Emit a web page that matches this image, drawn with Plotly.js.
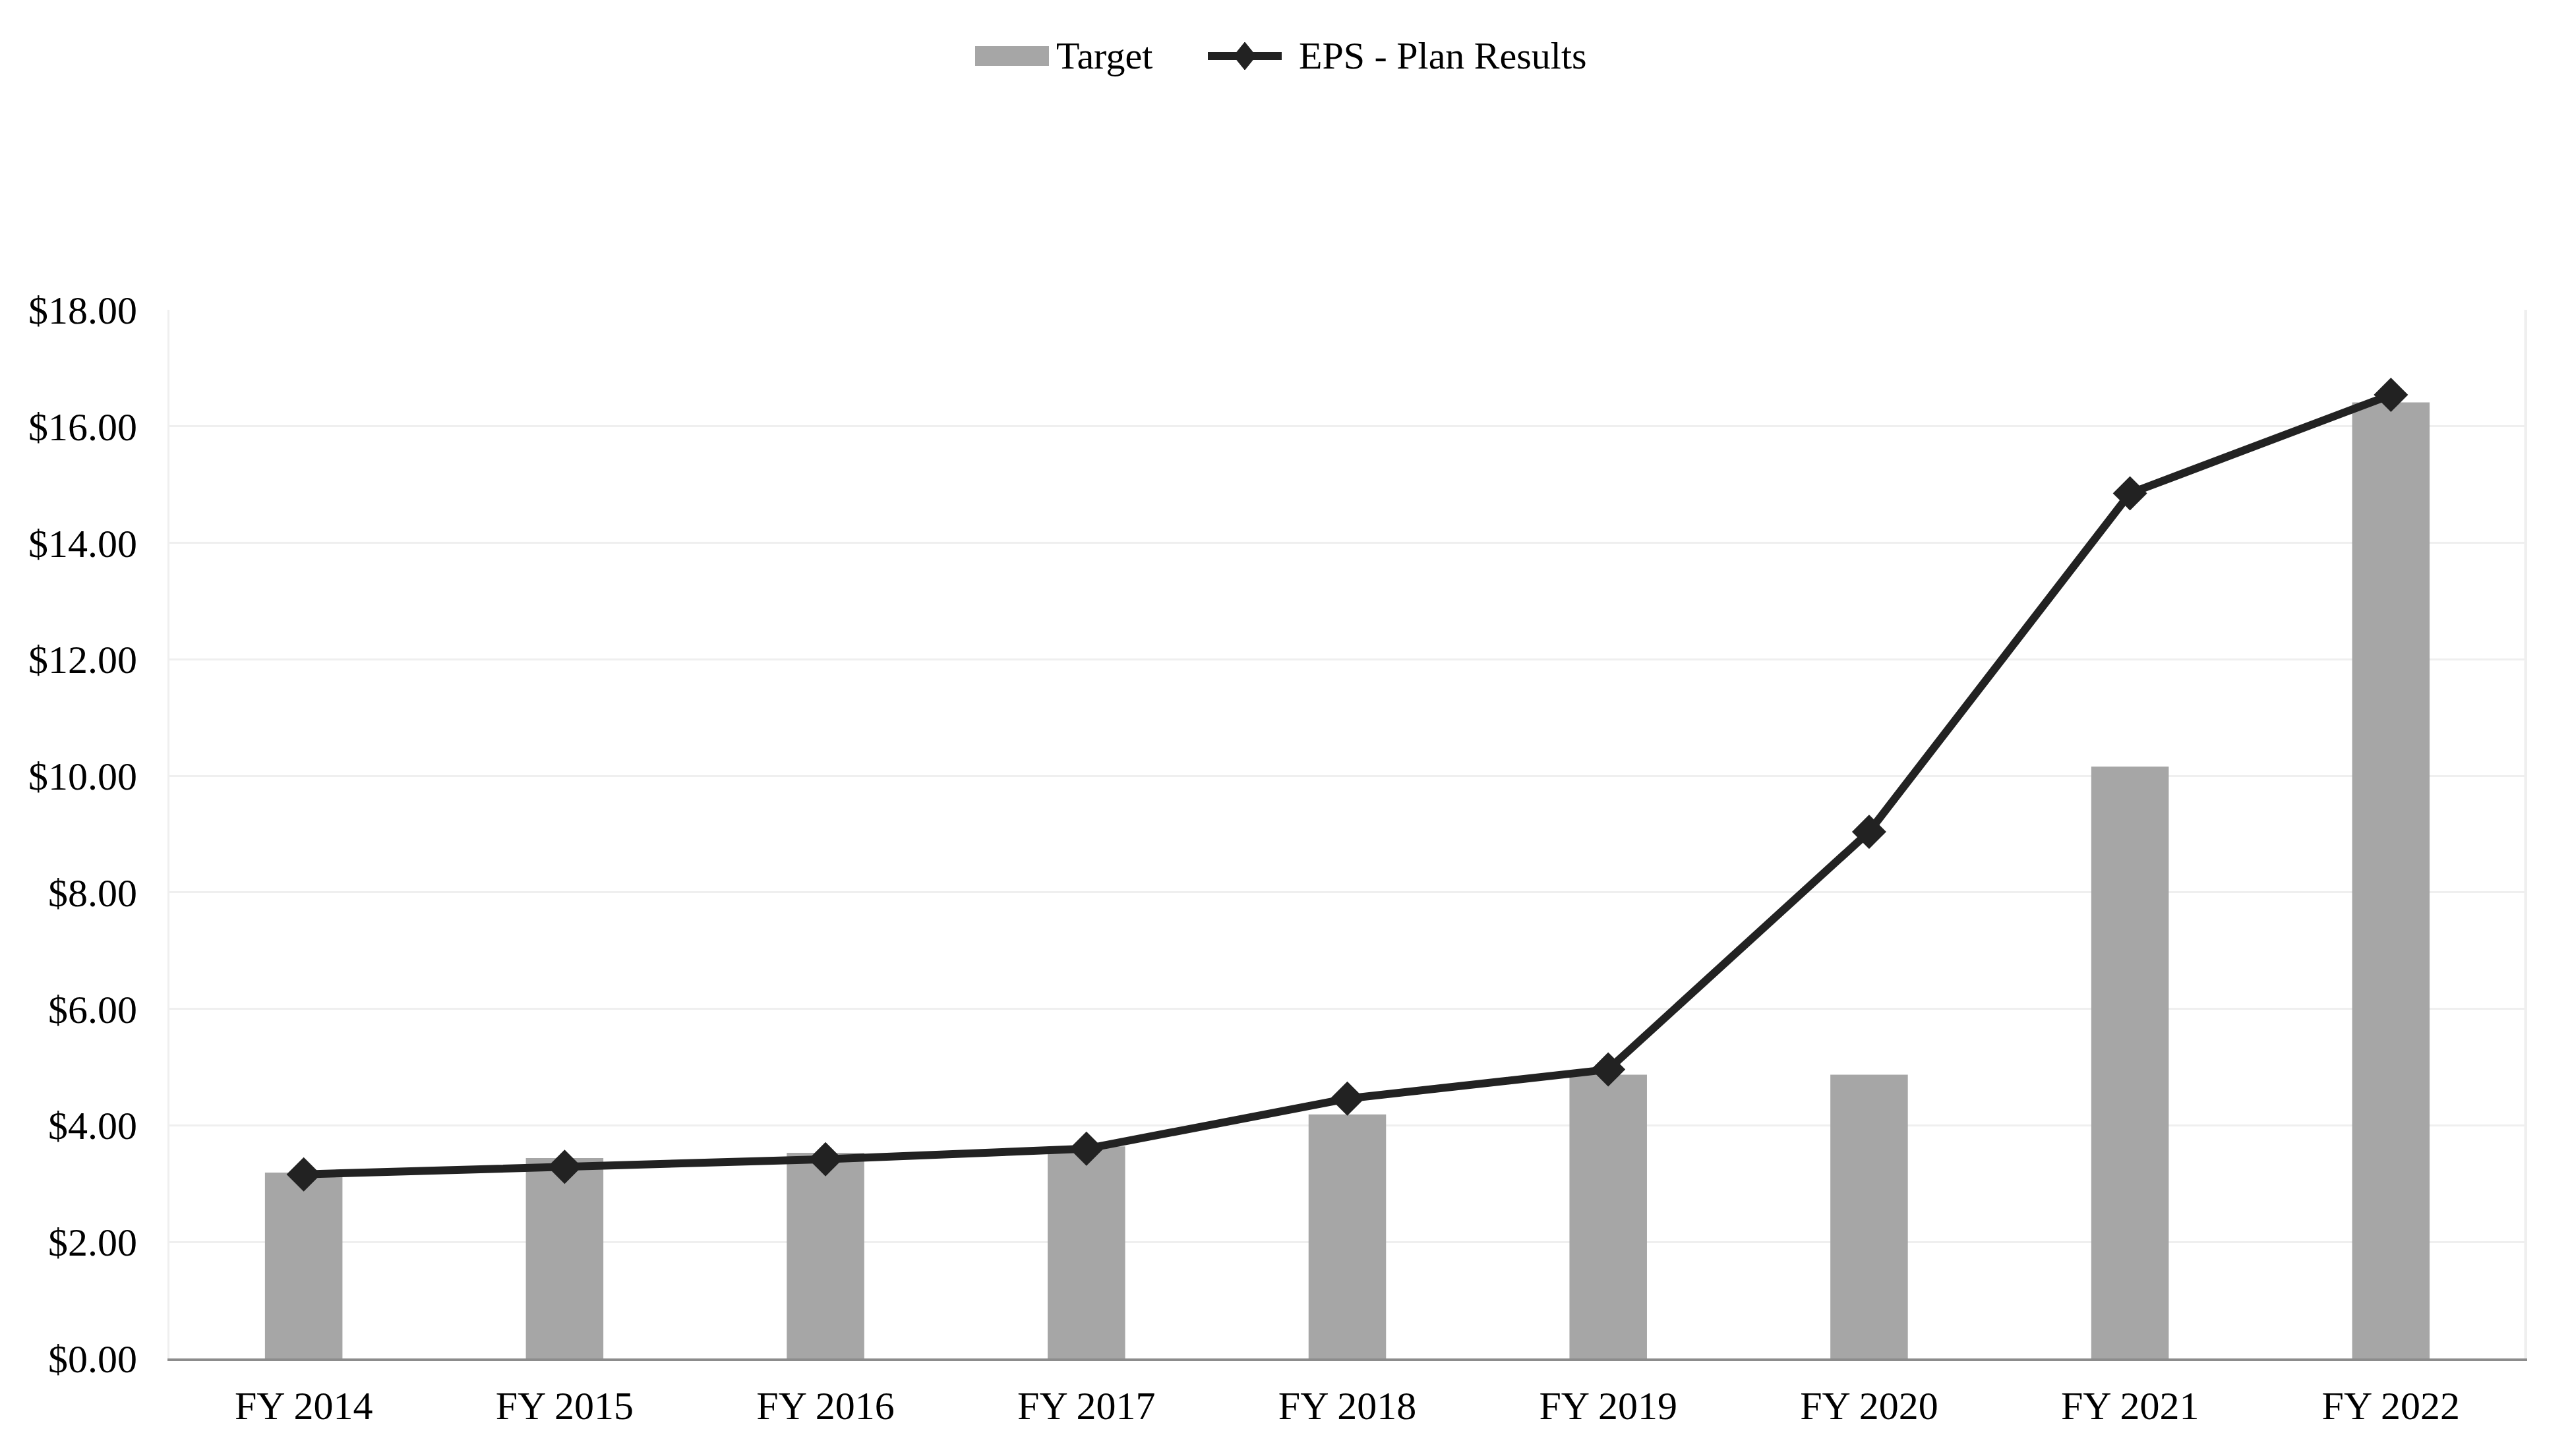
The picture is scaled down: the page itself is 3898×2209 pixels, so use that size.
<!DOCTYPE html>
<html>
<head>
<meta charset="utf-8">
<script src="https://cdn.plot.ly/plotly-3.0.1.min.js"></script>
<style>html,body{margin:0;padding:0;background:#fff;}#chart{width:3898px;height:2209px;}</style>
</head>
<body>
<div id="chart"></div>
<script>
const categories = ["FY 2014","FY 2015","FY 2016","FY 2017","FY 2018","FY 2019","FY 2020","FY 2021","FY 2022"];
const targetValues = [3.19, 3.44, 3.53, 3.64, 4.19, 4.87, 4.87, 10.16, 16.41];
const epsValues = [3.16, 3.29, 3.42, 3.60, 4.46, 4.96, 9.04, 14.85, 16.54];
const yTickValues = [0, 2, 4, 6, 8, 10, 12, 14, 16, 18];
const yTickLabels = ["$0.00","$2.00","$4.00","$6.00","$8.00","$10.00","$12.00","$14.00","$16.00","$18.00"];
const seriesNames = ["Target", "EPS - Plan Results"];

const W = 3898, H = 2209;
const M = {l: 257, r: 68, t: 470, b: 148};
const PW = W - M.l - M.r, PH = H - M.t - M.b;
const px = v => (v - M.l) / PW;          // page x pixel -> paper
const py = v => (H - M.b - v) / PH;      // page y pixel -> paper

const serif = "Liberation Serif, Times New Roman, serif";
const tickFont = {family: serif, size: 60, color: "#000"};
const legFont = {family: serif, size: 58, color: "#000"};
const barColor = "#a6a6a6", lineColor = "#222222";

const traces = [
  {type: "bar", name: seriesNames[0], x: categories, y: targetValues,
   marker: {color: barColor}, hoverinfo: "skip"},
  {type: "scatter", mode: "lines+markers", name: seriesNames[1], x: categories, y: epsValues,
   line: {color: lineColor, width: 12},
   marker: {symbol: "diamond", size: 40, color: lineColor}, hoverinfo: "skip"}
];

// custom legend (drawn in paper coordinates)
const legY = 85;
const dx = 1888, dhw = 17, dhh = 21;
const shapes = [
  {type: "line", xref: "paper", yref: "paper", x0: 1, x1: 1, y0: 0, y1: 1, line: {color: "#efefef", width: 3}},
  {type: "rect", xref: "paper", yref: "paper", x0: px(1479), x1: px(1591), y0: py(70), y1: py(100),
   fillcolor: barColor, line: {width: 0}},
  {type: "line", xref: "paper", yref: "paper", x0: px(1832), x1: px(1944), y0: py(legY), y1: py(legY),
   line: {color: lineColor, width: 12}},
  {type: "path", xref: "paper", yref: "paper",
   path: `M ${px(dx)} ${py(legY - dhh)} L ${px(dx + dhw)} ${py(legY)} L ${px(dx)} ${py(legY + dhh)} L ${px(dx - dhw)} ${py(legY)} Z`,
   fillcolor: lineColor, line: {color: lineColor, width: 1}}
];
const annotations = [
  {xref: "paper", yref: "paper", x: px(1600), y: py(legY), xanchor: "left", yanchor: "middle",
   text: seriesNames[0], showarrow: false, font: legFont},
  {xref: "paper", yref: "paper", x: px(1968), y: py(legY), xanchor: "left", yanchor: "middle",
   text: seriesNames[1], showarrow: false, font: legFont}
];

const layout = {
  width: W, height: H,
  margin: M,
  paper_bgcolor: "#fff", plot_bgcolor: "#fff",
  font: tickFont,
  bargap: 0.703,
  showlegend: false,
  xaxis: {
    type: "category", showgrid: false, zeroline: false,
    showline: true, linecolor: "#8c8c8c", linewidth: 4,
    ticks: "", ticklabelstandoff: 16, tickfont: tickFont
  },
  yaxis: {
    range: [0, 18], tickvals: yTickValues, ticktext: yTickLabels,
    showgrid: true, gridcolor: "#efefef", gridwidth: 3,
    zeroline: false, showline: true, linecolor: "#efefef", linewidth: 3,
    mirror: true, ticks: "", ticklabelstandoff: 34, tickfont: tickFont
  },
  shapes: shapes,
  annotations: annotations
};

Plotly.newPlot("chart", traces, layout, {staticPlot: true, displayModeBar: false});
</script>
</body>
</html>
